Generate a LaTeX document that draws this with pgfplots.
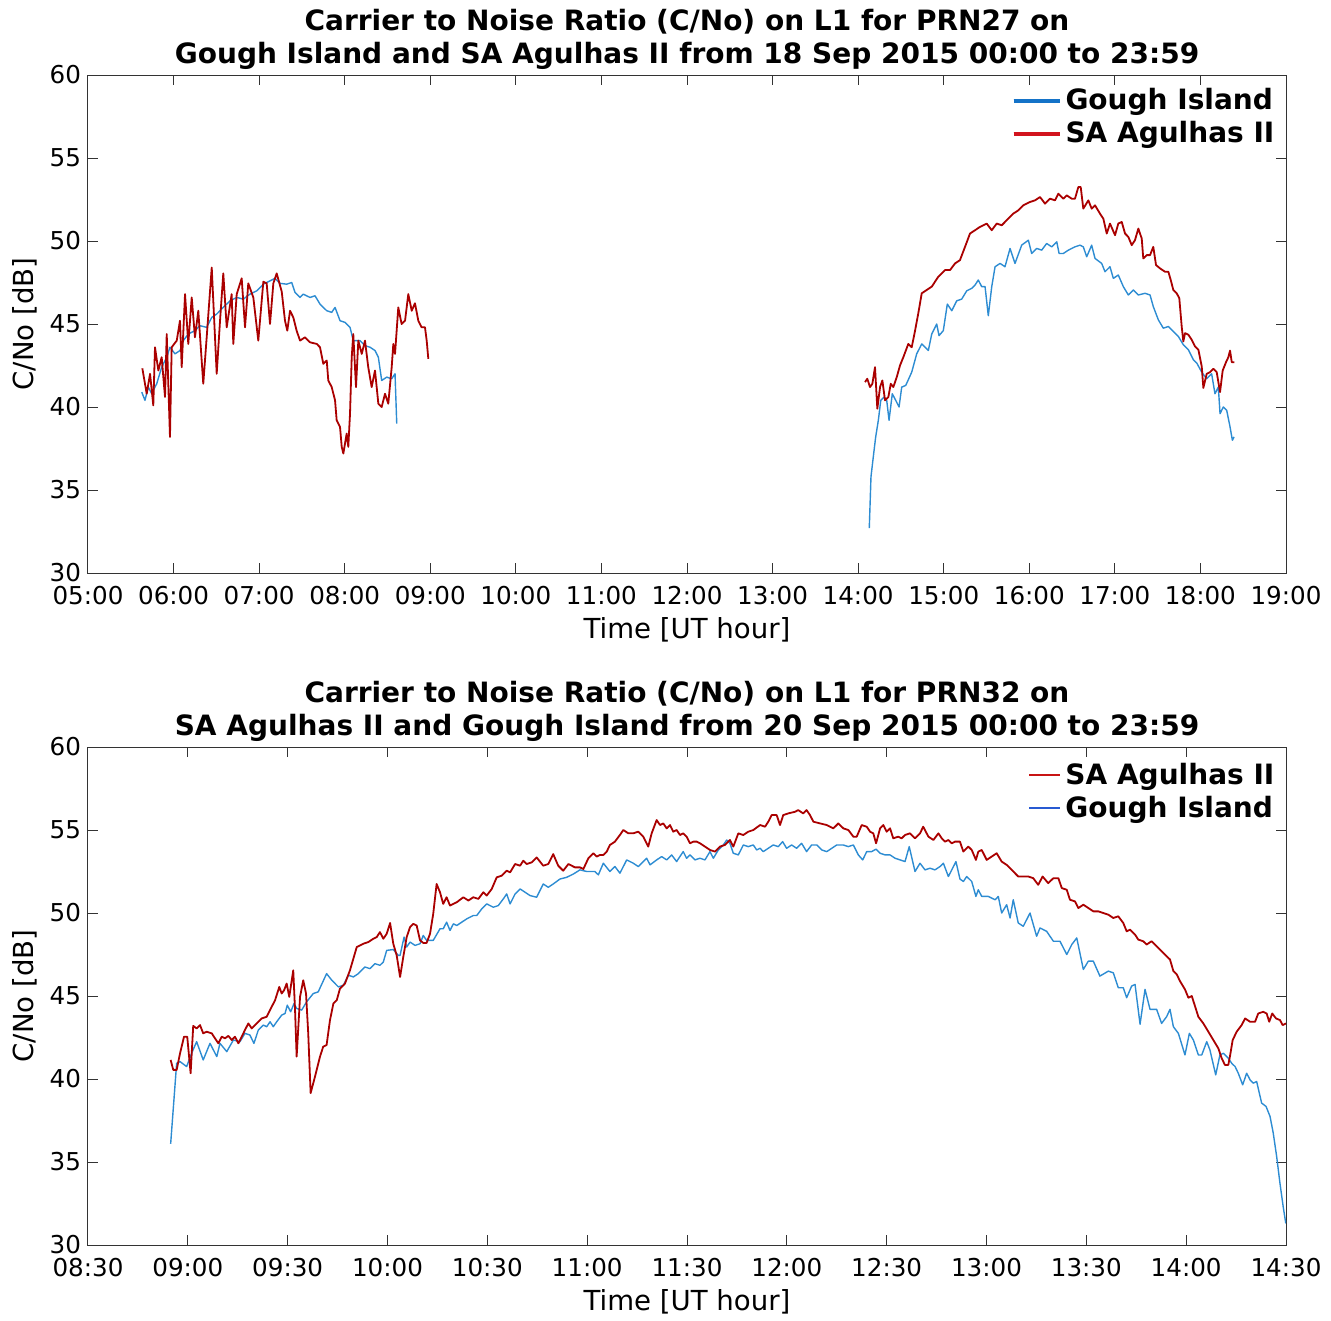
\documentclass[border=0pt]{standalone}
\usepackage{fontspec}
\setmainfont{DejaVu Sans}
\usepackage{pgfplots}
\pgfplotsset{compat=1.18}
\definecolor{cnblue}{RGB}{45,140,210}
\definecolor{cnred}{RGB}{170,0,0}
\definecolor{legblueA}{RGB}{20,115,200}
\definecolor{legredA}{RGB}{210,20,30}
\definecolor{legblueB}{RGB}{40,90,210}
\definecolor{legredB}{RGB}{200,20,20}
\pgfplotsset{cnstyle/.style={
  scale only axis, width=599pt, height=249pt,
  ymin=30, ymax=60, ytick={30,35,...,60},
  tick align=inside, major tick length=5pt,
  xtick pos=both, ytick pos=both, xticklabel pos=left, yticklabel pos=left,
  /pgf/number format/assume math mode=true,
  tick label style={font=\fontsize{12.3}{14}\selectfont},
  xticklabel style={yshift=-3pt},
  xlabel={Time [UT hour]}, ylabel={C/No [dB]},
  label style={font=\fontsize{13.8}{16}\selectfont},
  xlabel style={at={(axis description cs:0.5,0)}, anchor=center, yshift=-28.5pt},
  ylabel style={at={(axis description cs:-0.0526,0.5)}, anchor=center, rotate=0},
  title style={font=\bfseries\fontsize{14}{16.5}\selectfont, align=center, yshift=-7pt},
  axis line style={black!80, line width=0.5pt},
  tick style={black!80, line width=0.5pt},
  legend cell align=left,
  legend style={draw=none, fill=none, anchor=north east,
    font=\bfseries\fontsize{14}{16.5}\selectfont, row sep=0.5pt},
  every axis plot/.append style={line join=round},
}}
\begin{document}
\begin{tikzpicture}
\begin{axis}[cnstyle,
  xmin=5, xmax=19, xtick={5,6,...,19},
  xticklabels={05:00,06:00,07:00,08:00,09:00,10:00,11:00,12:00,13:00,14:00,15:00,16:00,17:00,18:00,19:00},
  title={Carrier to Noise Ratio (C/No) on L1 for PRN27 on\\Gough Island and SA Agulhas II from 18 Sep 2015 00:00 to 23:59},
  legend style={at={(0.999,0.99)}},
  legend image code/.code={\draw[#1] (0pt,0pt) -- (20pt,0pt); \path (0pt,0pt) -- (23pt,0pt);},
]
\addlegendimage{legblueA, line width=2pt}
\addlegendentry{Gough Island}
\addlegendimage{legredA, line width=2pt}
\addlegendentry{SA Agulhas II}
\addplot[cnblue, line width=0.7pt, forget plot] coordinates {
(5.628,40.9) (5.666,40.4) (5.705,41.2) (5.744,40.8) (5.803,41.4) (5.861,42.4) (5.920,43.0) (5.958,43.6) (6.017,43.2) (6.075,43.4) (6.114,44.0) (6.172,44.4) (6.250,44.6) (6.309,44.9) (6.387,44.8) (6.446,45.4) (6.504,45.6) (6.581,46.0) (6.660,46.4) (6.738,46.6) (6.815,46.5) (6.893,46.8) (6.972,47.0) (7.049,47.4) (7.127,47.6) (7.185,47.75) (7.244,47.45) (7.322,47.4) (7.381,47.5) (7.419,46.9) (7.478,46.6) (7.516,46.8) (7.594,46.6) (7.653,46.7) (7.711,46.2) (7.790,45.8) (7.848,45.7) (7.887,46.0) (7.945,45.2) (8.003,45.1) (8.062,44.8) (8.100,44.0) (8.179,44.0) (8.237,43.7) (8.296,43.6) (8.354,43.4) (8.393,43.0) (8.432,41.6) (8.491,41.8) (8.549,41.7) (8.588,42.0) (8.608,39.0)
};
\addplot[cnred, line width=0.9pt, forget plot] coordinates {
(5.635,42.33) (5.686,40.8) (5.725,42.0) (5.763,40.1) (5.783,43.6) (5.822,42.2) (5.861,43.0) (5.900,40.6) (5.920,44.4) (5.958,38.2) (5.978,43.6) (6.037,44.0) (6.075,45.2) (6.095,42.4) (6.134,46.8) (6.172,43.8) (6.212,46.6) (6.250,44.2) (6.289,45.8) (6.347,41.4) (6.387,44.2) (6.446,48.4) (6.504,42.0) (6.543,45.2) (6.581,48.05) (6.621,44.8) (6.679,46.8) (6.698,43.8) (6.738,46.8) (6.796,47.75) (6.835,44.8) (6.873,47.45) (6.932,46.6) (6.990,44.0) (7.049,47.55) (7.088,47.45) (7.127,45.0) (7.166,47.45) (7.205,48.05) (7.264,46.95) (7.302,45.2) (7.329,44.6) (7.361,45.8) (7.399,45.4) (7.438,44.6) (7.478,44.0) (7.536,44.2) (7.594,43.9) (7.673,43.8) (7.711,43.6) (7.750,42.6) (7.790,42.8) (7.808,41.6) (7.848,41.2) (7.887,40.4) (7.906,39.2) (7.945,38.8) (7.965,37.6) (7.984,37.2) (8.023,38.4) (8.042,37.6) (8.062,39.6) (8.082,43.0) (8.100,44.4) (8.132,41.2) (8.159,44.0) (8.199,43.2) (8.237,44.0) (8.275,42.4) (8.315,41.2) (8.354,42.2) (8.393,40.2) (8.432,40.0) (8.471,40.8) (8.509,40.2) (8.549,42.4) (8.568,43.8) (8.588,43.2) (8.626,46.0) (8.665,45.0) (8.705,45.2) (8.743,46.8) (8.783,45.8) (8.821,46.25) (8.860,45.2) (8.899,44.8) (8.938,44.8) (8.958,44.0) (8.977,42.9)
};
\addplot[cnblue, line width=0.7pt, forget plot] coordinates {
(14.130,32.7) (14.150,35.8) (14.177,37.0) (14.205,38.2) (14.236,39.2) (14.264,40.4) (14.302,40.6) (14.334,40.4) (14.361,39.2) (14.399,40.8) (14.439,40.4) (14.478,40.0) (14.509,41.2) (14.556,41.3) (14.626,42.1) (14.684,43.2) (14.743,43.8) (14.820,43.4) (14.860,44.4) (14.918,45.0) (14.945,44.3) (14.995,44.6) (15.042,46.2) (15.094,45.8) (15.152,46.4) (15.210,46.5) (15.269,47.0) (15.327,47.15) (15.366,47.35) (15.404,47.65) (15.444,47.25) (15.483,47.25) (15.521,45.5) (15.561,47.25) (15.600,48.45) (15.658,48.65) (15.716,48.45) (15.775,49.55) (15.833,48.65) (15.911,49.75) (15.989,50.05) (16.028,49.25) (16.087,49.55) (16.145,49.45) (16.203,49.85) (16.262,49.65) (16.321,49.95) (16.348,49.25) (16.398,49.25) (16.457,49.45) (16.534,49.65) (16.593,49.75) (16.631,49.65) (16.671,49.05) (16.729,49.75) (16.768,48.95) (16.846,48.65) (16.885,48.15) (16.943,48.45) (16.982,47.75) (17.040,47.95) (17.099,47.25) (17.157,46.75) (17.216,47.05) (17.274,46.75) (17.352,46.85) (17.411,46.75) (17.449,46.05) (17.508,45.25) (17.566,44.75) (17.625,44.85) (17.683,44.55) (17.742,44.25) (17.800,43.75) (17.859,43.45) (17.917,42.85) (17.957,42.65) (18.015,42.1) (18.073,41.7) (18.131,42.0) (18.170,40.8) (18.209,41.2) (18.229,39.6) (18.267,40.0) (18.307,39.8) (18.346,38.8) (18.373,38.0) (18.393,38.2)
};
\addplot[cnred, line width=0.9pt, forget plot] coordinates {
(14.080,41.5) (14.107,41.7) (14.139,41.2) (14.166,41.4) (14.197,42.4) (14.224,39.9) (14.256,41.2) (14.283,41.6) (14.314,40.4) (14.353,40.6) (14.381,41.4) (14.411,41.2) (14.451,41.8) (14.489,42.5) (14.528,43.0) (14.586,43.8) (14.626,43.6) (14.665,44.6) (14.703,45.65) (14.743,46.85) (14.801,47.05) (14.860,47.25) (14.937,47.85) (15.015,48.25) (15.074,48.25) (15.132,48.65) (15.190,48.85) (15.249,49.65) (15.307,50.45) (15.366,50.65) (15.424,50.85) (15.502,51.05) (15.561,50.65) (15.619,51.05) (15.678,50.95) (15.736,51.25) (15.813,51.65) (15.872,51.85) (15.930,52.15) (16.008,52.35) (16.067,52.45) (16.125,52.65) (16.184,52.25) (16.242,52.55) (16.301,52.45) (16.340,52.85) (16.398,52.55) (16.438,52.75) (16.496,52.55) (16.534,52.55) (16.573,53.25) (16.601,53.25) (16.631,51.95) (16.690,52.45) (16.729,51.95) (16.768,52.15) (16.826,51.65) (16.865,51.35) (16.905,50.45) (16.943,51.05) (17.002,50.35) (17.040,51.05) (17.080,51.15) (17.119,50.45) (17.157,50.25) (17.197,49.75) (17.235,50.05) (17.274,50.75) (17.314,50.15) (17.332,48.95) (17.372,49.15) (17.411,49.15) (17.449,49.65) (17.481,48.55) (17.528,48.35) (17.586,48.15) (17.625,48.15) (17.653,47.65) (17.683,47.05) (17.723,46.85) (17.753,46.55) (17.781,44.85) (17.800,43.95) (17.820,44.45) (17.859,44.35) (17.898,44.05) (17.937,43.65) (17.976,43.45) (18.015,42.45) (18.034,41.15) (18.073,42.0) (18.112,42.1) (18.151,42.3) (18.190,42.1) (18.229,40.9) (18.260,42.2) (18.299,42.7) (18.326,43.0) (18.346,43.4) (18.366,42.7) (18.396,42.7)
};
\end{axis}
\begin{axis}[cnstyle, at={(0pt,-336pt)},
  xmin=8.5, xmax=14.5, xtick={8.5,9,...,14.5},
  xticklabels={08:30,09:00,09:30,10:00,10:30,11:00,11:30,12:00,12:30,13:00,13:30,14:00,14:30},
  title={Carrier to Noise Ratio (C/No) on L1 for PRN32 on\\SA Agulhas II and Gough Island from 20 Sep 2015 00:00 to 23:59},
  legend style={at={(0.999,0.985)}},
  legend image code/.code={\draw[#1] (0pt,0pt) -- (12.5pt,0pt); \path (0pt,0pt) -- (15.5pt,0pt);},
]
\addlegendimage{legredB, line width=1pt}
\addlegendentry{SA Agulhas II}
\addlegendimage{legblueB, line width=1pt}
\addlegendentry{Gough Island}
\addplot[cnblue, line width=0.7pt, forget plot] coordinates {
(8.914,36.1) (8.944,40.95) (8.961,41.05) (8.994,40.75) (9.019,41.55) (9.044,42.25) (9.077,41.15) (9.111,42.15) (9.145,41.35) (9.161,42.15) (9.195,41.65) (9.228,42.35) (9.261,42.25) (9.286,42.75) (9.311,42.65) (9.331,42.15) (9.353,42.95) (9.378,43.25) (9.395,43.15) (9.412,43.45) (9.428,43.15) (9.445,43.45) (9.470,43.85) (9.487,43.95) (9.498,44.45) (9.515,44.05) (9.532,44.55) (9.545,44.25) (9.570,44.15) (9.595,44.65) (9.628,45.15) (9.653,45.25) (9.695,46.35) (9.721,45.95) (9.754,45.55) (9.779,45.65) (9.804,46.25) (9.829,46.15) (9.854,46.35) (9.887,46.75) (9.912,46.65) (9.937,46.95) (9.962,46.85) (9.979,47.05) (9.996,47.75) (10.029,47.8) (10.054,47.45) (10.063,47.45) (10.083,48.55) (10.096,47.95) (10.113,48.25) (10.138,48.05) (10.163,48.15) (10.179,48.65) (10.196,48.35) (10.229,48.35) (10.263,49.05) (10.279,49.05) (10.296,49.45) (10.313,48.95) (10.330,49.35) (10.347,49.25) (10.372,49.45) (10.397,49.65) (10.430,49.85) (10.447,49.85) (10.472,50.25) (10.497,50.55) (10.530,50.35) (10.555,50.45) (10.580,50.85) (10.597,51.15) (10.614,50.55) (10.639,51.15) (10.664,51.45) (10.689,51.25) (10.714,51.05) (10.747,50.95) (10.780,51.75) (10.805,51.55) (10.830,51.75) (10.864,52.05) (10.897,52.15) (10.931,52.35) (10.964,52.6) (10.998,52.5) (11.039,52.5) (11.056,52.3) (11.081,53.0) (11.114,52.5) (11.139,52.8) (11.164,52.4) (11.198,53.2) (11.231,53.0) (11.256,52.8) (11.281,53.1) (11.298,53.3) (11.315,52.9) (11.348,53.2) (11.373,53.4) (11.398,53.2) (11.423,53.5) (11.448,53.1) (11.481,53.7) (11.498,53.3) (11.515,53.5) (11.540,53.2) (11.565,53.3) (11.590,53.2) (11.615,53.7) (11.632,53.3) (11.657,53.8) (11.682,54.1) (11.699,54.4) (11.715,54.2) (11.732,53.6) (11.757,53.5) (11.782,54.1) (11.807,54.0) (11.832,54.1) (11.849,53.8) (11.866,53.9) (11.882,53.7) (11.907,53.9) (11.932,54.1) (11.957,54.0) (11.979,54.3) (11.999,53.9) (12.024,54.1) (12.049,53.9) (12.074,54.2) (12.099,53.7) (12.124,54.1) (12.150,54.1) (12.175,53.8) (12.200,53.7) (12.225,53.9) (12.250,54.1) (12.283,54.1) (12.308,54.0) (12.333,54.1) (12.358,53.5) (12.380,53.2) (12.400,53.7) (12.425,53.7) (12.447,53.85) (12.467,53.6) (12.492,53.5) (12.517,53.5) (12.542,53.3) (12.567,53.2) (12.592,53.1) (12.613,54.0) (12.642,52.5) (12.667,53.0) (12.692,52.6) (12.717,52.7) (12.742,52.6) (12.767,52.8) (12.784,53.0) (12.809,52.2) (12.826,52.6) (12.847,53.1) (12.867,52.05) (12.884,51.9) (12.901,52.2) (12.926,51.9) (12.947,51.0) (12.959,51.4) (12.976,51.0) (13.009,51.0) (13.043,50.8) (13.059,51.0) (13.076,50.0) (13.101,50.5) (13.118,49.7) (13.134,50.8) (13.159,49.4) (13.184,49.2) (13.218,50.0) (13.251,48.6) (13.268,49.1) (13.301,48.9) (13.335,48.3) (13.368,48.3) (13.402,47.5) (13.427,48.1) (13.452,48.5) (13.485,46.6) (13.510,47.1) (13.535,47.1) (13.568,46.2) (13.610,46.5) (13.635,46.4) (13.660,45.5) (13.685,45.5) (13.702,44.9) (13.727,45.6) (13.744,45.7) (13.769,43.3) (13.794,45.4) (13.819,44.2) (13.852,44.2) (13.877,43.35) (13.902,43.75) (13.919,44.2) (13.936,43.15) (13.961,42.75) (13.994,41.45) (14.016,42.75) (14.036,42.35) (14.061,41.45) (14.078,41.45) (14.103,42.25) (14.119,41.75) (14.148,40.25) (14.169,41.45) (14.186,41.55) (14.211,41.25) (14.228,40.95) (14.245,40.75) (14.261,40.35) (14.283,39.65) (14.303,40.35) (14.320,39.95) (14.336,39.75) (14.353,39.85) (14.378,38.55) (14.400,38.35) (14.420,37.75) (14.436,36.75) (14.453,35.35) (14.470,33.7) (14.486,32.3) (14.499,31.3)
};
\addplot[cnred, line width=0.9pt, forget plot] coordinates {
(8.914,41.15) (8.927,40.55) (8.944,40.55) (8.961,41.55) (8.981,42.55) (8.997,42.55) (9.014,40.35) (9.027,43.2) (9.044,43.05) (9.061,43.25) (9.077,42.75) (9.094,42.85) (9.120,42.75) (9.136,42.45) (9.153,42.15) (9.170,42.55) (9.186,42.45) (9.203,42.6) (9.220,42.35) (9.236,42.55) (9.253,42.15) (9.270,42.55) (9.286,42.95) (9.303,43.35) (9.320,43.05) (9.345,43.35) (9.370,43.65) (9.395,43.75) (9.420,44.35) (9.437,44.75) (9.458,45.55) (9.470,45.15) (9.482,45.35) (9.495,45.75) (9.508,44.95) (9.528,46.55) (9.537,44.15) (9.545,41.35) (9.562,44.95) (9.578,45.95) (9.592,45.15) (9.603,42.75) (9.615,39.15) (9.637,40.15) (9.662,41.35) (9.678,41.95) (9.695,42.05) (9.712,43.55) (9.729,44.55) (9.746,44.75) (9.762,45.45) (9.787,45.75) (9.812,46.55) (9.846,47.95) (9.879,48.15) (9.904,48.25) (9.929,48.45) (9.946,48.55) (9.962,48.85) (9.979,48.45) (9.996,48.75) (10.013,49.4) (10.029,48.15) (10.046,47.45) (10.063,46.15) (10.079,47.35) (10.096,48.55) (10.113,49.15) (10.129,49.35) (10.146,49.25) (10.163,48.35) (10.179,48.2) (10.196,48.2) (10.213,48.75) (10.229,49.95) (10.246,51.75) (10.263,51.25) (10.279,50.55) (10.296,50.95) (10.313,50.45) (10.347,50.65) (10.380,50.95) (10.405,50.75) (10.430,50.95) (10.455,50.85) (10.480,51.25) (10.497,51.05) (10.522,51.45) (10.547,52.15) (10.572,52.25) (10.597,52.55) (10.614,52.45) (10.639,52.95) (10.664,52.85) (10.680,53.15) (10.697,52.95) (10.722,53.05) (10.747,53.35) (10.780,52.85) (10.805,52.95) (10.830,53.55) (10.855,52.85) (10.880,52.55) (10.906,52.95) (10.939,52.75) (10.964,52.75) (10.981,52.65) (11.006,53.3) (11.031,53.6) (11.048,53.4) (11.064,53.5) (11.081,53.5) (11.098,53.7) (11.114,54.1) (11.139,54.3) (11.164,54.7) (11.181,55.0) (11.206,54.8) (11.231,54.8) (11.256,54.9) (11.281,54.6) (11.306,54.0) (11.323,54.8) (11.348,55.6) (11.365,55.3) (11.381,55.4) (11.398,55.1) (11.415,55.3) (11.431,54.9) (11.448,55.0) (11.465,54.7) (11.481,54.8) (11.498,54.6) (11.515,54.2) (11.532,54.3) (11.549,54.3) (11.565,54.2) (11.590,54.0) (11.615,53.8) (11.640,53.7) (11.665,54.0) (11.690,54.1) (11.715,54.4) (11.732,54.0) (11.757,54.8) (11.782,54.7) (11.807,54.9) (11.832,55.0) (11.866,55.3) (11.891,55.2) (11.907,55.5) (11.924,55.9) (11.949,55.9) (11.966,55.3) (11.982,55.9) (12.007,56.0) (12.041,56.1) (12.057,56.2) (12.082,56.0) (12.099,56.2) (12.116,55.9) (12.133,55.5) (12.166,55.4) (12.200,55.3) (12.233,55.1) (12.258,55.4) (12.283,55.1) (12.308,55.0) (12.333,54.6) (12.350,54.6) (12.375,55.3) (12.400,55.2) (12.417,54.9) (12.433,54.8) (12.447,54.2) (12.467,55.1) (12.483,55.3) (12.500,54.9) (12.517,55.1) (12.533,54.5) (12.558,54.6) (12.575,54.5) (12.592,54.7) (12.617,54.8) (12.642,54.5) (12.667,54.8) (12.683,55.2) (12.709,54.6) (12.734,54.4) (12.759,54.8) (12.776,54.5) (12.792,54.3) (12.809,54.4) (12.826,54.2) (12.842,54.3) (12.867,54.3) (12.884,53.7) (12.909,54.0) (12.926,53.8) (12.947,53.2) (12.959,53.7) (12.976,53.8) (13.001,53.2) (13.026,53.4) (13.051,53.6) (13.076,53.1) (13.101,52.9) (13.126,52.6) (13.159,52.2) (13.184,52.2) (13.209,52.2) (13.234,52.1) (13.259,51.7) (13.281,52.2) (13.309,51.8) (13.335,52.1) (13.360,52.1) (13.377,51.5) (13.402,51.4) (13.418,50.8) (13.443,50.7) (13.460,50.3) (13.485,50.5) (13.510,50.3) (13.535,50.1) (13.560,50.1) (13.585,50.0) (13.610,49.9) (13.635,49.7) (13.660,49.8) (13.685,49.4) (13.702,48.9) (13.719,49.0) (13.744,48.7) (13.760,48.4) (13.785,48.3) (13.802,48.1) (13.827,48.3) (13.852,48.0) (13.877,47.7) (13.902,47.4) (13.919,47.2) (13.936,46.5) (13.953,46.3) (13.969,45.9) (13.994,45.4) (14.011,44.9) (14.028,45.0) (14.044,44.4) (14.061,43.75) (14.086,43.35) (14.111,42.85) (14.136,42.35) (14.161,41.85) (14.178,41.25) (14.194,40.85) (14.211,40.85) (14.219,41.35) (14.233,42.35) (14.253,42.85) (14.278,43.25) (14.295,43.65) (14.320,43.45) (14.345,43.45) (14.361,43.95) (14.386,44.05) (14.403,43.95) (14.416,43.45) (14.431,43.95) (14.450,43.65) (14.470,43.55) (14.483,43.25) (14.500,43.35)
};
\end{axis}
\path (-44pt,-371pt) rectangle (621.5pt,286.5pt);
\end{tikzpicture}
\end{document}
